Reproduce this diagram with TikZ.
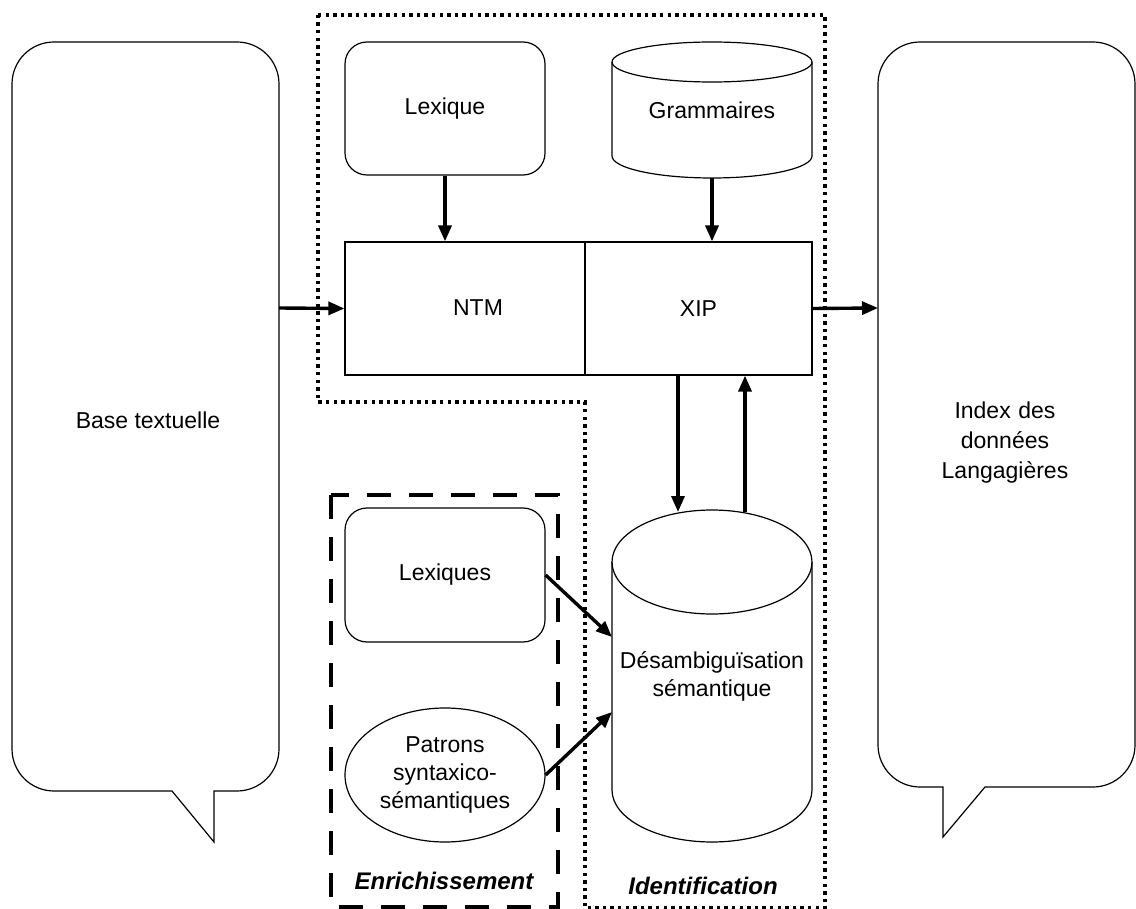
\documentclass[tikz,border=0pt]{standalone}
\usepackage{fontspec}
\setmainfont{Liberation Sans}
\usepackage{tikz}
\usetikzlibrary{positioning,shapes,arrows.meta}

\begin{document}
\begin{tikzpicture}[x=0.5pt,y=-0.5pt,
  every node/.style={font=\fontsize{11.5}{14}\selectfont, align=center, inner sep=0pt},
  thin line/.style={line width=0.6pt},
  rbox/.style={draw, thin line, rounded corners=11pt, minimum width=100pt, minimum height=66.5pt},
  plainbox/.style={draw, thin line, minimum height=66.5pt},
  arr/.style={line width=1.7pt, -{Triangle[length=8pt,width=6.5pt]}},
  dotline/.style={line width=1.7pt, dash pattern=on 1.7pt off 2.1pt},
  dashline/.style={line width=2pt, dash pattern=on 12pt off 9pt},
  title/.style={font=\fontsize{12}{14}\selectfont\bfseries\itshape}]
\useasboundingbox (0,0) rectangle (1136,909);

% speech bubbles
\draw [thin line] (214,791) -- (237,791) arc[start angle=270,end angle=360,radius=21pt]
  -- (279,84) arc[start angle=0,end angle=90,radius=21pt]
  -- (54,42) arc[start angle=90,end angle=180,radius=21pt]
  -- (12,749) arc[start angle=180,end angle=270,radius=21pt]
  -- (172,791) -- (214,842) -- cycle;
\node (base) at (148,420) {Base textuelle};
\draw [thin line] (985,787) -- (1093,787) arc[start angle=270,end angle=360,radius=21pt]
  -- (1135,84) arc[start angle=0,end angle=90,radius=21pt]
  -- (920,42) arc[start angle=90,end angle=180,radius=21pt]
  -- (878,745) arc[start angle=180,end angle=270,radius=21pt]
  -- (943,787) -- (943,837) -- cycle;
\node [text width=110pt, font=\fontsize{11.5}{15}\selectfont] (index) at (1005,443) {Index des\\donn\'ees\\Langagi\`eres};
\coordinate (baseR) at (279,308);
\coordinate (indexL) at (878,308);

% groups
\draw [dotline] (318,15) -- (825,15) -- (825,908) -- (585,908) -- (585,402) -- (318,402) -- cycle;
\draw [dashline] (331,495) rectangle (558,907);
\node [title] (enrich) at (444,881) {Enrichissement};
\node [title] (ident) at (703,886) {Identification};

% top resources
\node [rbox, minimum height=66.5pt] (lex) at (445,108.5) {Lexique};
\node [minimum width=100pt, minimum height=68pt] (gram) at (712,110) {Grammaires};
\draw [thin line] (712,62) ellipse [x radius=50pt, y radius=10pt];
\draw [thin line] (612,62) -- (612,156) arc[start angle=180,end angle=360,x radius=50pt,y radius=11pt] -- (812,62);

% analysers
\node [plainbox, minimum width=120pt] (ntm) at (465,308.5) {};
\node (ntmtxt) at (478,308) {NTM};
\node [plainbox, minimum width=113.5pt] (xip) at (698.5,308.5) {XIP};

% disambiguation
\node [minimum width=100pt, minimum height=166pt] (desamb) at (712,676) {D\'esambigu\"isation\\s\'emantique};
\draw [thin line] (712,562) ellipse [x radius=50pt, y radius=26pt];
\draw [thin line] (612,562) -- (612,790) arc[start angle=180,end angle=360,x radius=50pt,y radius=26pt] -- (812,562);
\coordinate (dIn) at (678,512);
\coordinate (dOut) at (745,512);
\coordinate (dLexs) at (612,637);
\coordinate (dPat) at (612,712);

% enrichment resources
\node [rbox, minimum height=67pt] (lexs) at (445,575) {Lexiques};
\node [draw, thin line, ellipse, minimum width=100pt, minimum height=67pt] (pat) at (445,775) {Patrons\\syntaxico-\\s\'emantiques};

% connectors
\draw [arr] (baseR) -- (ntm.west);
\draw [arr] (xip.east) -- (indexL);
\draw [arr] (lex.south) -- (ntm.north -| lex.south);
\draw [arr] (gram.south) -- (xip.north -| gram.south);
\draw [arr] (xip.south -| dIn) -- (dIn);
\draw [arr] (dOut) -- (xip.south -| dOut);
\draw [arr] (lexs.east) -- (dLexs);
\draw [arr] (pat.east) -- (dPat);
\end{tikzpicture}
\end{document}
